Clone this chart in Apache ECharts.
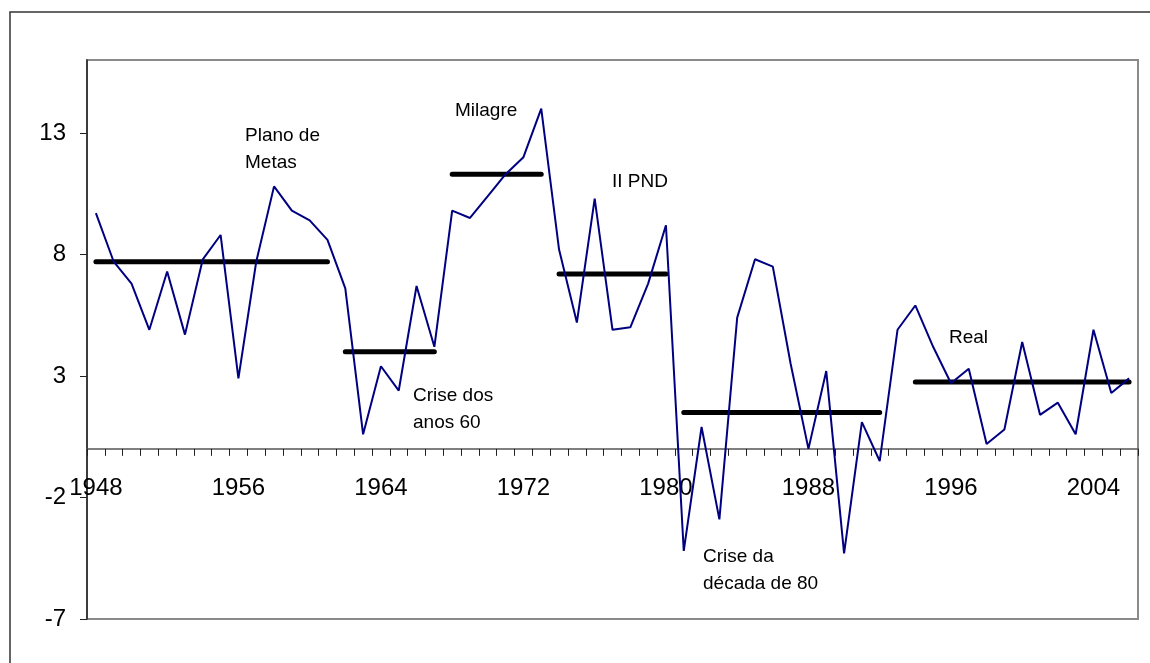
<!DOCTYPE html>
<html>
<head>
<meta charset="utf-8">
<script src="https://cdn.jsdelivr.net/npm/echarts@6/dist/echarts.min.js"></script>
<style>
  html, body { margin: 0; padding: 0; background: #fff; }
  #chart { width: 1150px; height: 663px; }
</style>
</head>
<body>
<div id="chart"></div>
<script>
// Annual real GDP growth, %
const years = [];
for (let y = 1948; y <= 2006; y++) years.push(String(y));

const growth = [
  9.7, 7.7, 6.8, 4.9, 7.3, 4.7, 7.8, 8.8, 2.9, 7.7,
  10.8, 9.8, 9.4, 8.6, 6.6, 0.6, 3.4, 2.4, 6.7, 4.2,
  9.8, 9.5, 10.4, 11.3, 12.0, 14.0, 8.2, 5.2, 10.3, 4.9,
  5.0, 6.8, 9.2, -4.2, 0.9, -2.9, 5.4, 7.8, 7.5, 3.5,
  0.0, 3.2, -4.3, 1.1, -0.5, 4.9, 5.9, 4.2, 2.7, 3.3,
  0.2, 0.8, 4.4, 1.4, 1.9, 0.6, 4.9, 2.3, 2.9
];

// Period averages (first year, last year, mean growth)
const periodStart = ['1948', '1962', '1968', '1974', '1981', '1994'];
const periodEnd   = ['1961', '1967', '1973', '1980', '1992', '2006'];
const periodMean  = [7.7, 4.0, 11.3, 7.2, 1.5, 2.75];

// Period captions
const notes = [
  { lines: ['Plano de', 'Metas'], x: 245, y: 122 },
  { lines: ['Milagre'], x: 455, y: 97 },
  { lines: ['II PND'], x: 612, y: 168 },
  { lines: ['Crise dos', 'anos 60'], x: 413, y: 382 },
  { lines: ['Crise da', 'década de 80'], x: 703, y: 543 },
  { lines: ['Real'], x: 949, y: 324 }
];

const FONT = '"Liberation Sans", Arial, sans-serif';

const periodSeries = periodStart.map((s, i) => {
  const a = years.indexOf(s), b = years.indexOf(periodEnd[i]);
  const data = years.map((_, k) => (k >= a && k <= b ? periodMean[i] : null));
  return {
    type: 'line',
    data: data,
    symbol: 'none',
    connectNulls: false,
    silent: true,
    z: 3,
    lineStyle: { color: '#000', width: 5, cap: 'round' }
  };
});

const chart = echarts.init(document.getElementById('chart'), null, { renderer: 'canvas' });

chart.setOption({
  animation: false,
  backgroundColor: '#fff',
  textStyle: { fontFamily: FONT },
  grid: {
    left: 87, top: 60, right: 12, bottom: 44,
    outerBoundsMode: 'none',
    containLabel: false,
    show: true, borderColor: '#8a8a8a', borderWidth: 2, backgroundColor: 'transparent'
  },
  xAxis: {
    type: 'category',
    data: years,
    boundaryGap: true,
    axisLine: { onZero: true, lineStyle: { color: '#555', width: 1.5 } },
    axisTick: { show: true, inside: false, interval: 0, length: 7, lineStyle: { color: '#222', width: 1 } },
    // year labels sit just under the zero line
    axisLabel: { interval: 7, margin: -143, color: '#000', fontSize: 24, fontFamily: FONT },
    splitLine: { show: false }
  },
  yAxis: {
    type: 'value',
    min: -7, max: 16, interval: 5,
    axisLine: { show: true, lineStyle: { color: '#222', width: 1.5 } },
    axisTick: { show: true, length: 7, lineStyle: { color: '#222', width: 1 } },
    axisLabel: { margin: 21, color: '#000', fontSize: 24, fontFamily: FONT, showMaxLabel: false },
    splitLine: { show: false }
  },
  series: [
    {
      type: 'line',
      data: growth,
      symbol: 'none',
      z: 4,
      lineStyle: { color: '#000080', width: 2 }
    }
  ].concat(periodSeries),
  graphic: [
    {
      type: 'rect',
      shape: { x: 10, y: 12, width: 1300, height: 800 },
      style: { fill: 'none', stroke: '#333', lineWidth: 1.5 },
      silent: true
    }
  ].concat(notes.map(n => ({
    type: 'text',
    left: n.x, top: n.y,
    style: {
      text: n.lines.join('\n'),
      font: '19px ' + FONT,
      lineHeight: 27,
      fill: '#000'
    },
    z: 10
  })))
});
</script>
</body>
</html>
